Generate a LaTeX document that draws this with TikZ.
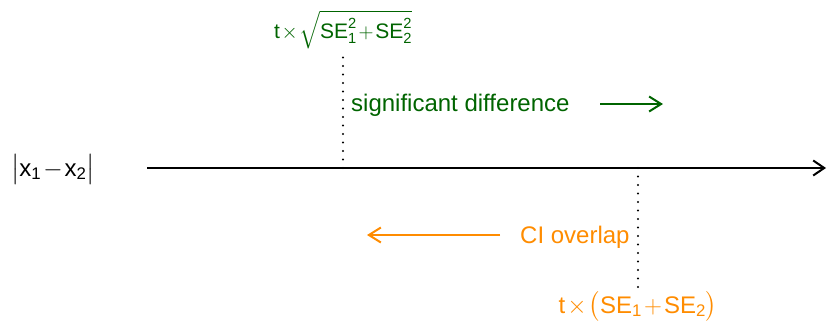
\documentclass[tikz,border=0pt]{standalone}
\usepackage{amsmath}
\usepackage{fontspec}
\setmainfont{Liberation Sans}
\usetikzlibrary{arrows.meta}
\definecolor{dgreen}{RGB}{0,100,0}
\definecolor{dorange}{RGB}{255,140,0}
\newcommand{\tightmath}{\medmuskip=1.5mu\relax\thinmuskip=1mu\relax}
\tikzset{
  lbl/.style={inner sep=0pt, font=\fontsize{24}{28}\selectfont},
  toplbl/.style={inner sep=0pt, font=\fontsize{21}{25}\selectfont},
  dotline/.style={line width=2.4pt, line cap=round, dash pattern=on 0pt off 8.5pt},
  arr/.style={line width=2pt, -{Straight Barb[length=12pt,width=15pt,line width=2pt]}}
}
\begin{document}
\begin{tikzpicture}[x=1pt,y=-1pt]
\useasboundingbox (0,0) rectangle (828,330);
% axis
\coordinate (axS) at (147,168);
\coordinate (axE) at (826,168);
\draw[line width=2pt, -{Straight Barb[length=11pt,width=15pt,line width=2pt]}] (axS) -- (axE);
% left label
\node[lbl, anchor=base] (diff) at (53,176) {$\tightmath\bigl|\text{x}_{\text{1}}-\text{x}_{\text{2}}\bigr|$};
% top formula and dotted line
\node[toplbl, anchor=base, text=dgreen] (sig) at (343,38) {$\tightmath\text{t}\times\sqrt{\text{SE}_{\text{1}}^{\text{2}}+\text{SE}_{\text{2}}^{\text{2}}}$};
\coordinate (d1top) at (343,52);
\coordinate (d1bot) at (343,168);
\draw[dotline] (d1bot) -- (d1top);
\node[lbl, anchor=base west, text=dgreen] (sigtxt) at (351,111) {significant difference};
\coordinate (ga) at (600,104);
\coordinate (gb) at (663,104);
\draw[arr, dgreen] (ga) -- (gb);
% bottom formula and dotted line
\node[lbl, anchor=base, text=dorange] (ci) at (638,313) {$\tightmath\text{t}\times\bigl(\text{SE}_{\text{1}}+\text{SE}_{\text{2}}\bigr)$};
\coordinate (d2top) at (638,168);
\coordinate (d2bot) at (638,290);
\draw[dotline] (d2top) -- (d2bot);
\node[lbl, anchor=base west, text=dorange] (citxt) at (520,243) {CI overlap};
\coordinate (oa) at (500,235);
\coordinate (ob) at (367,235);
\draw[arr, dorange] (oa) -- (ob);
\end{tikzpicture}
\end{document}
